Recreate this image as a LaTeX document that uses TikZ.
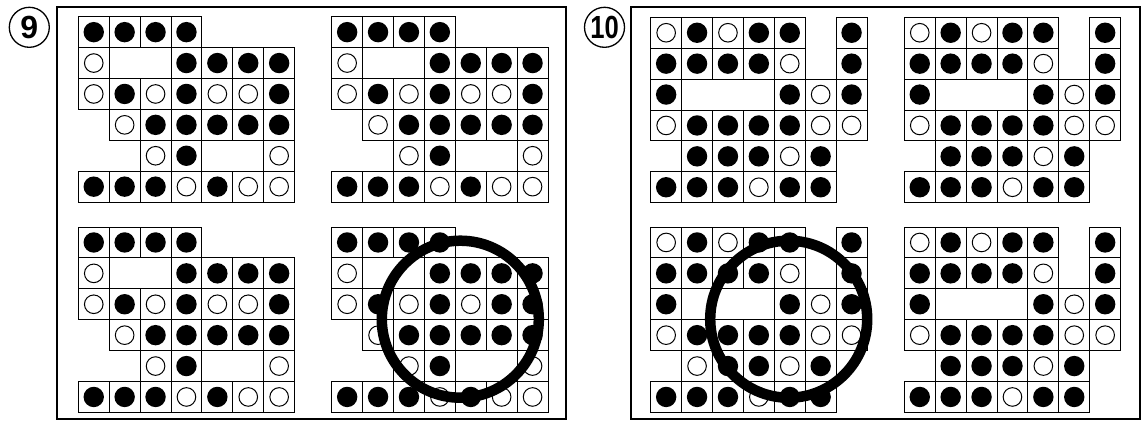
\documentclass[tikz,border=0pt]{standalone}
\usepackage{fontspec}
\setmainfont{Liberation Sans}
\begin{document}
\begin{tikzpicture}[x=1pt,y=-1pt,
  cellbox/.style={draw=black,line width=0.9pt,fill=white},
  blackstone/.style={fill=black},
  whitestone/.style={draw=black,line width=1pt,fill=white},
  panelframe/.style={draw=black,line width=1.9pt},
  ring/.style={draw=black,line width=10.5pt},
  numlabel/.style={circle,draw=black,line width=1.3pt,minimum size=40pt,inner sep=0pt,
    font=\fontsize{32}{32}\selectfont\bfseries}]
\def\cs{30.9}
\newcommand\drawgrid[3]{%
  \foreach \rowlist [count=\r from 0] in #3 {
    \foreach \s [count=\k from 0] in \rowlist {
      \if\s.\else
        \draw[cellbox] ({#1+\k*\cs},{#2+\r*\cs}) rectangle ++(\cs,\cs);
        \if\s B\fill[blackstone] ({#1+(\k+0.5)*\cs},{#2+(\r+0.5)*\cs}) circle (10.2);\fi
        \if\s W\draw[whitestone] ({#1+(\k+0.5)*\cs},{#2+(\r+0.5)*\cs}) circle (9.3);\fi
      \fi
    }
  }
}
\useasboundingbox (0,0) rectangle (1142,421);
\fill[white] (0,0) rectangle (1142,421);
% panel frames
\draw[panelframe] (57.3,7.3) rectangle (566,419.3);
\draw[panelframe] (630.7,7.3) rectangle (1139.7,419.3);
% labels
\node[numlabel] (l9) at (29.3,27.3) {9};
\node[numlabel] (l10) at (604.5,27.3) {\scalebox{0.8}[1]{10}};
% panel 9 grids
\def\gridA{{B,B,B,B,.,.,.},{W,.,.,B,B,B,B},{W,B,W,B,W,W,B},{.,W,B,B,B,B,B},{.,.,W,B,.,.,W},{B,B,B,W,B,W,W}}
\def\gridAb{{B,B,B,B,.,.,.},{W,.,.,B,B,B,B},{W,B,W,B,W,B,B},{.,W,B,B,B,B,B},{.,.,W,B,.,.,W},{B,B,B,W,B,W,W}}
\drawgrid{78.3}{16.7}{\gridA}
\drawgrid{331.7}{16.7}{\gridA}
\drawgrid{78.3}{227}{\gridA}
\drawgrid{331.7}{227}{\gridAb}
% panel 10 grids
\def\gridB{{W,B,W,B,B,.,B},{B,B,B,B,W,.,B},{B,.,.,.,B,W,B},{W,B,B,B,B,W,W},{.,B,B,B,W,B,.},{B,B,B,W,B,B,.}}
\def\gridBb{{W,B,W,B,B,.,B},{B,B,B,B,W,.,B},{B,.,.,.,B,W,B},{W,B,B,B,B,W,W},{.,W,B,B,W,B,.},{B,B,B,W,B,B,.}}
\drawgrid{650.7}{17.3}{\gridB}
\drawgrid{904.3}{17.3}{\gridB}
\drawgrid{650.7}{227}{\gridBb}
\drawgrid{904.3}{227}{\gridB}
% rings
\draw[ring] (460.3,319.2) circle (78.5);
\draw[ring] (788.7,319.2) circle (78.5);
\end{tikzpicture}
\end{document}
